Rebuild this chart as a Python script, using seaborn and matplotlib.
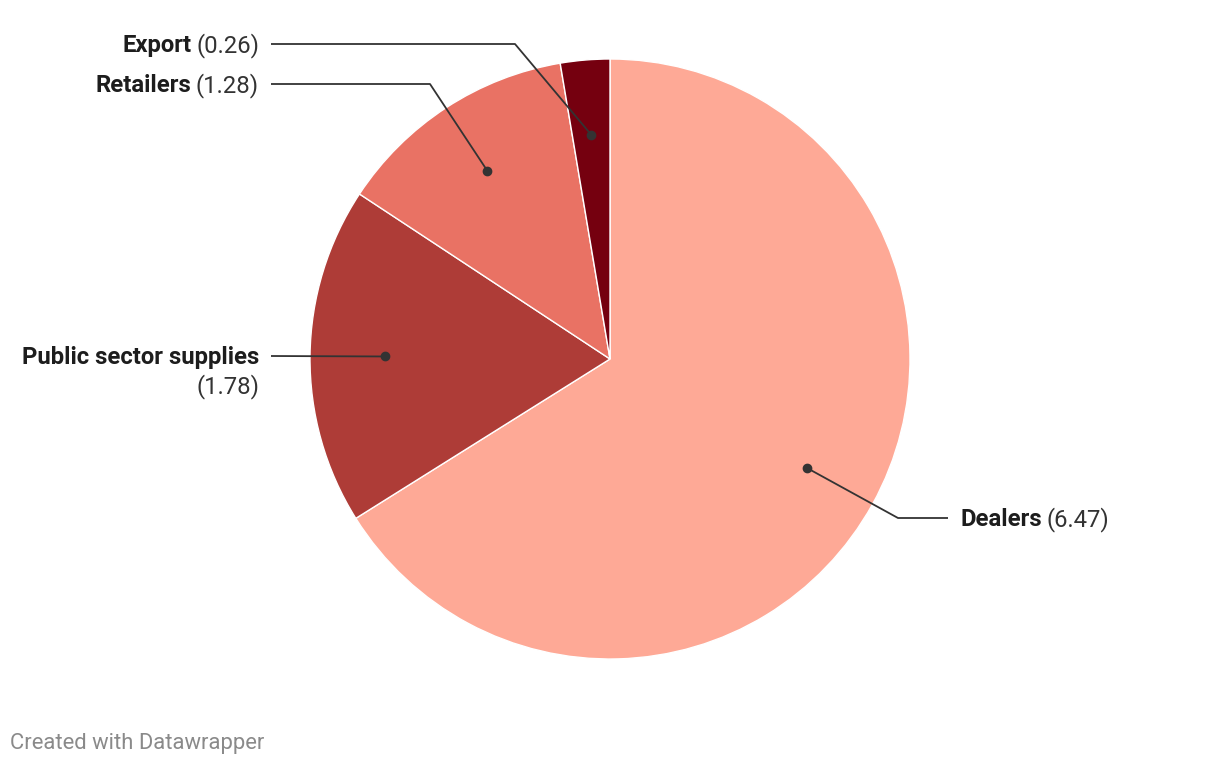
import matplotlib.pyplot as plt
import seaborn as sns
import numpy as np

# data
categories = ["Dealers", "Public sector supplies", "Retailers", "Export"]
values = [6.47, 1.78, 1.28, 0.26]
colors = ["#fea996", "#ae3c37", "#e97264", "#75000f"]

W, H = 1220, 766

sns.set_theme(style="white")
plt.rcParams['font.family'] = ['Roboto', 'DejaVu Sans']

fig = plt.figure(figsize=(W / 100, H / 100), dpi=100)
ax = fig.add_axes([0, 0, 1, 1])

cx, cy, R = 610, H - 359, 300
wedges, _ = ax.pie(values, colors=colors, startangle=90, counterclock=False,
                   center=(cx, cy), radius=R, frame=True,
                   wedgeprops=dict(edgecolor='white', linewidth=1.0))
ax.set_xlim(0, W)
ax.set_ylim(0, H)
ax.set_aspect('equal')
ax.axis('off')

# label layout: (text anchor x, line y, elbow x, line end x, side)
layout = {
    "Dealers": (960, 518, 898, 948, 'left'),
    "Public sector supplies": (259, 356, None, 271, 'right'),
    "Retailers": (259, 84, 430, 271, 'right'),
    "Export": (259, 44, 515, 271, 'right'),
}

line_c = '#333333'
fs = 17.2
tshift = 1.5  # text sits slightly below the leader line
for w, cat, val in zip(wedges, categories, values):
    mid = np.deg2rad((w.theta1 + w.theta2) / 2)
    dx, dy = cx + 0.75 * R * np.cos(mid), cy + 0.75 * R * np.sin(mid)
    tx, ly, ex, lx, side = layout[cat]
    ly = H - ly
    ty = ly - tshift
    if ex is None:
        xs, ys = [dx, lx], [dy, ly]
    else:
        xs, ys = [dx, ex, lx], [dy, ly, ly]
    ax.plot(xs, ys, color=line_c, lw=1.3, solid_capstyle='butt', zorder=3)
    ax.plot(dx, dy, 'o', color=line_c, ms=6, zorder=4)

    vtxt = f"({val:.2f})"
    if side == 'left':
        t1 = ax.text(tx, ty, cat, ha='left', va='center', fontsize=fs,
                     fontweight='bold', color='#1d1d1d')
        ax.annotate(vtxt, xy=(1, 0.5), xycoords=t1, xytext=(3.5, 0),
                    textcoords='offset points', ha='left', va='center',
                    fontsize=fs, color='#333333')
    elif cat == "Public sector supplies":
        ax.text(tx, ty, cat, ha='right', va='center', fontsize=fs,
                fontweight='bold', color='#1d1d1d')
        ax.text(tx, ty - 29, vtxt, ha='right', va='center', fontsize=fs,
                color='#333333')
    else:
        t1 = ax.text(tx, ty, vtxt, ha='right', va='center', fontsize=fs,
                     color='#333333')
        ax.annotate(cat, xy=(0, 0.5), xycoords=t1, xytext=(-3.5, 0),
                    textcoords='offset points', ha='right', va='center',
                    fontsize=fs, fontweight='bold', color='#1d1d1d')

ax.text(10, H - 744, "Created with Datawrapper", ha='left', va='center',
        fontsize=15.8, color='#8a8a8a')

fig.savefig("out.png", dpi=100)
